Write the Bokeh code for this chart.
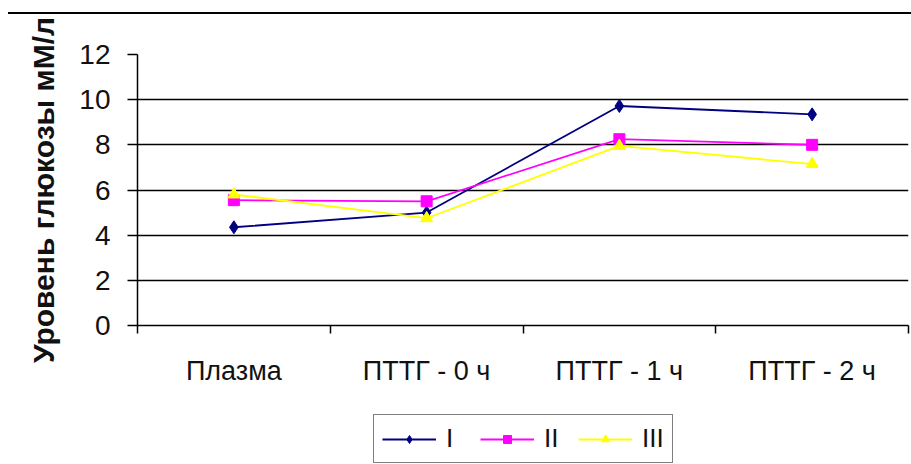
from bokeh.plotting import figure
from bokeh.models import Legend, LegendItem, FixedTicker, Range1d, Div
from bokeh.layouts import column
from bokeh.embed import file_html
from bokeh.resources import INLINE

categories = ["Плазма", "ПТТГ - 0 ч", "ПТТГ - 1 ч", "ПТТГ - 2 ч"]
series_I = [4.35, 5.0, 9.72, 9.35]
series_II = [5.55, 5.5, 8.25, 8.0]
series_III = [5.8, 4.75, 7.95, 7.15]
y_ticks = [0, 2, 4, 6, 8, 10, 12]
series_names = ["I", "II", "III"]
y_title = "Уровень глюкозы мМ/л"

FONT = "Liberation Sans"
COLORS = ["#000080", "#FF00FF", "#FFFF00"]
MARKERS = ["diamond", "square", "triangle"]
SIZES = [13, 11, 12]
all_series = [series_I, series_II, series_III]

xs = [i + 0.5 for i in range(len(categories))]
bounds = list(range(len(categories) + 1))

# top rule line
top_line = Div(text="", width=911, height=14, margin=0,
               styles={"background": "linear-gradient(#000,#000) 8px 12px / 903px 2px no-repeat"})

p = figure(width=911, height=386, x_range=Range1d(0, len(categories)),
           y_range=Range1d(0, 12), output_backend="svg", toolbar_location=None,
           min_border_left=137, min_border_right=3, min_border_top=40,
           min_border_bottom=75)
p.outline_line_color = None
p.background_fill_color = "white"
p.border_fill_color = "white"

p.xgrid.grid_line_color = None
p.ygrid.grid_line_color = "black"
p.ygrid.grid_line_width = 1.5

# y axis
p.yaxis.ticker = FixedTicker(ticks=y_ticks)
p.yaxis.axis_line_color = "black"
p.yaxis.axis_line_width = 1.5
p.yaxis.major_tick_line_color = "black"
p.yaxis.major_tick_line_width = 1.5
p.yaxis.major_tick_out = 10
p.yaxis.major_tick_in = 0
p.yaxis.minor_tick_line_color = None
p.yaxis.major_label_standoff = 17
p.yaxis.major_label_text_font = FONT
p.yaxis.major_label_text_font_size = "28px"
p.yaxis.major_label_text_color = "#111111"
p.yaxis.axis_label = y_title
p.yaxis.axis_label_text_font = FONT
p.yaxis.axis_label_text_font_style = "bold"
p.yaxis.axis_label_text_font_size = "30px"
p.yaxis.axis_label_text_color = "#111111"
p.yaxis.axis_label_standoff = 16

# x axis: labels at centers, ticks at category boundaries
p.xaxis.ticker = FixedTicker(ticks=xs, minor_ticks=bounds)
p.xaxis.major_label_overrides = {x: c for x, c in zip(xs, categories)}
p.xaxis.axis_line_color = "black"
p.xaxis.axis_line_width = 1.5
p.xaxis.major_tick_line_color = None
p.xaxis.major_tick_out = 8
p.xaxis.major_tick_in = 0
p.xaxis.minor_tick_line_color = "black"
p.xaxis.minor_tick_line_width = 1.5
p.xaxis.minor_tick_out = 8
p.xaxis.minor_tick_in = 0
p.xaxis.major_label_standoff = 22
p.xaxis.major_label_text_font = FONT
p.xaxis.major_label_text_font_size = "27px"
p.xaxis.major_label_text_color = "#111111"

for ys, c, m, s in zip(all_series, COLORS, MARKERS, SIZES):
    p.line(xs, ys, line_color=c, line_width=1.8)
    p.scatter(xs, ys, marker=m, size=s, fill_color=c, line_color=c)

# legend strip (separate figure; its glyph renderers sit outside its visible range)
lg = figure(width=911, height=64, x_range=Range1d(0, len(categories)),
            y_range=Range1d(100, 101), output_backend="svg", toolbar_location=None,
            x_axis_location=None, y_axis_location=None,
            min_border_left=137, min_border_right=3, min_border_top=0, min_border_bottom=0)
lg.outline_line_color = None
lg.xgrid.grid_line_color = None
lg.ygrid.grid_line_color = None
lg.background_fill_color = "white"
lg.border_fill_color = "white"

items = []
for name, ys, c, m, s in zip(series_names, all_series, COLORS, MARKERS, SIZES):
    lr = lg.line(xs, ys, line_color=c, line_width=1.8)
    sr = lg.scatter(xs, ys, marker=m, size=s, fill_color=c, line_color=c)
    items.append(LegendItem(label=name, renderers=[lr, sr]))

legend = Legend(items=items, orientation="horizontal", location=(236, 1))
legend.border_line_color = "black"
legend.border_line_width = 1.5
legend.background_fill_color = "white"
legend.label_text_font = FONT
legend.label_text_font_size = "26px"
legend.label_text_color = "#111111"
legend.glyph_width = 54
legend.glyph_height = 20
legend.label_standoff = 10
legend.spacing = 14
legend.padding = 8
legend.margin = 0
lg.add_layout(legend, "center")

layout = column(top_line, p, lg, spacing=0)
open("out.html", "w").write(file_html(layout, INLINE))
